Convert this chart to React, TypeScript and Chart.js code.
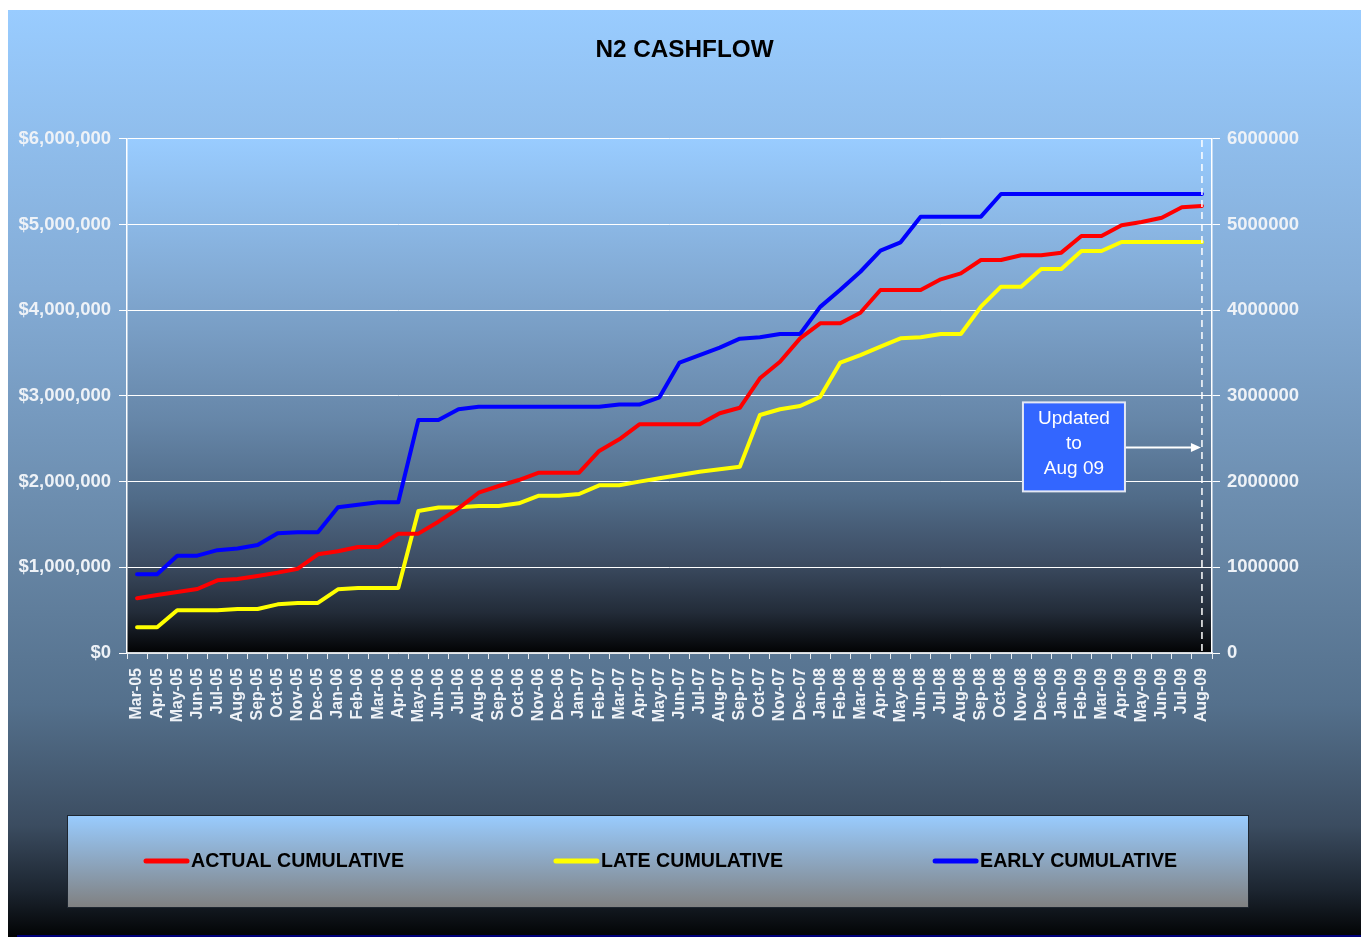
import React, { useEffect, useRef } from 'react';
import { Chart, registerables } from 'chart.js';

Chart.register(...registerables);

const months = [
  'Mar-05', 'Apr-05', 'May-05', 'Jun-05', 'Jul-05', 'Aug-05', 'Sep-05', 'Oct-05', 'Nov-05', 'Dec-05',
  'Jan-06', 'Feb-06', 'Mar-06', 'Apr-06', 'May-06', 'Jun-06', 'Jul-06', 'Aug-06', 'Sep-06', 'Oct-06', 'Nov-06', 'Dec-06',
  'Jan-07', 'Feb-07', 'Mar-07', 'Apr-07', 'May-07', 'Jun-07', 'Jul-07', 'Aug-07', 'Sep-07', 'Oct-07', 'Nov-07', 'Dec-07',
  'Jan-08', 'Feb-08', 'Mar-08', 'Apr-08', 'May-08', 'Jun-08', 'Jul-08', 'Aug-08', 'Sep-08', 'Oct-08', 'Nov-08', 'Dec-08',
  'Jan-09', 'Feb-09', 'Mar-09', 'Apr-09', 'May-09', 'Jun-09', 'Jul-09', 'Aug-09',
];

const actualCumulative = [
  640000, 677000, 712000, 747000, 848000, 864000, 899000, 938000, 984000, 1152000,
  1187000, 1237000, 1237000, 1393000, 1393000, 1533000, 1689000, 1871000, 1949000, 2019000, 2105000, 2105000,
  2105000, 2358000, 2494000, 2669000, 2669000, 2669000, 2669000, 2798000, 2862000, 3206000, 3400000, 3673000,
  3848000, 3848000, 3972000, 4237000, 4237000, 4237000, 4362000, 4432000, 4587000, 4587000, 4642000, 4642000,
  4673000, 4867000, 4867000, 4992000, 5030000, 5081000, 5202000, 5218000,
];

const lateCumulative = [
  300000, 300000, 498000, 498000, 498000, 514000, 514000, 568000, 584000, 584000,
  743000, 759000, 759000, 759000, 1658000, 1698000, 1700000, 1716000, 1716000, 1747000, 1836000, 1836000,
  1856000, 1957000, 1957000, 2000000, 2039000, 2078000, 2116000, 2144000, 2175000, 2778000, 2845000, 2883000,
  2990000, 3390000, 3478000, 3575000, 3673000, 3685000, 3723000, 3723000, 4042000, 4276000, 4276000, 4482000,
  4482000, 4692000, 4692000, 4797000, 4797000, 4797000, 4797000, 4797000,
];

const earlyCumulative = [
  920000, 920000, 1136000, 1136000, 1200000, 1220000, 1260000, 1397000, 1410000, 1410000,
  1700000, 1730000, 1760000, 1760000, 2720000, 2720000, 2845000, 2875000, 2875000, 2875000, 2875000, 2875000,
  2875000, 2875000, 2900000, 2900000, 2985000, 3390000, 3478000, 3564000, 3669000, 3685000, 3723000, 3723000,
  4040000, 4240000, 4450000, 4696000, 4794000, 5093000, 5093000, 5093000, 5093000, 5358000, 5358000, 5358000,
  5358000, 5358000, 5358000, 5358000, 5358000, 5358000, 5358000, 5358000,
];

const seriesNames = ['ACTUAL CUMULATIVE', 'LATE CUMULATIVE', 'EARLY CUMULATIVE'];
const seriesColors = ['#ff0000', '#ffff00', '#0000ff'];
const noteLines = ['Updated', 'to', 'Aug 09'];
const noteValue = 2400000;

const FONT = "'Liberation Sans', Arial, Helvetica, sans-serif";
const TICK_COLOR = '#eef2f7';

export default function App() {
  const ref = useRef<HTMLCanvasElement>(null);

  useEffect(() => {
    const canvas = ref.current;
    if (!canvas) return;

    const bgPlugin = {
      id: 'bgPlugin',
      beforeDraw(chart: any) {
        const { ctx, width, height, chartArea } = chart;
        ctx.save();
        let g = ctx.createLinearGradient(0, 0, 0, height);
        g.addColorStop(0, '#99ccff');
        g.addColorStop(0.3, '#84acd6');
        g.addColorStop(0.6, '#6584a3');
        g.addColorStop(0.75, '#54708c');
        g.addColorStop(0.88, '#3b4c60');
        g.addColorStop(0.95, '#1c2530');
        g.addColorStop(1, '#020304');
        ctx.fillStyle = g;
        ctx.fillRect(0, 0, width, height);
        ctx.fillStyle = '#00007a';
        ctx.fillRect(9, height - 2, width - 9, 2);

        const { left, top, right, bottom } = chartArea;
        g = ctx.createLinearGradient(0, top, 0, bottom);
        g.addColorStop(0, '#99ccff');
        g.addColorStop(0.3, '#80a7d0');
        g.addColorStop(0.55, '#6686a8');
        g.addColorStop(0.7, '#506b88');
        g.addColorStop(0.82, '#3d4d63');
        g.addColorStop(0.92, '#232c39');
        g.addColorStop(1, '#020304');
        ctx.fillStyle = g;
        ctx.fillRect(left, top, right - left, bottom - top);
        ctx.restore();
      },
      afterDraw(chart: any) {
        const { ctx } = chart;
        // legend box
        const bx = 59, by = 805, bw = 1182, bh = 93;
        ctx.save();
        const g = ctx.createLinearGradient(0, by, 0, by + bh);
        g.addColorStop(0, '#99ccff');
        g.addColorStop(1, '#808080');
        ctx.fillStyle = g;
        ctx.fillRect(bx, by, bw, bh);
        ctx.strokeStyle = '#1e2630';
        ctx.lineWidth = 1;
        ctx.strokeRect(bx + 0.5, by + 0.5, bw - 1, bh - 1);

        ctx.font = `bold 19.6px ${FONT}`;
        ctx.textBaseline = 'middle';
        ctx.textAlign = 'left';
        let x = 136;
        const cy = 851;
        chart.data.datasets.forEach((ds: any) => {
          ctx.strokeStyle = ds.borderColor;
          ctx.lineWidth = 5;
          ctx.lineCap = 'round';
          ctx.beginPath();
          ctx.moveTo(x + 2, cy);
          ctx.lineTo(x + 43, cy);
          ctx.stroke();
          ctx.fillStyle = '#000000';
          ctx.fillText(ds.label, x + 47, cy + 1);
          x += 47 + ctx.measureText(ds.label).width + 150;
        });
        ctx.restore();
      },
      afterDatasetsDraw(chart: any) {
        const { ctx, chartArea } = chart;
        const xs = chart.scales.x;
        const ys = chart.scales.y;
        const xEnd = xs.getPixelForValue(months.length - 1);
        ctx.save();
        // dashed marker line
        ctx.strokeStyle = '#ffffff';
        ctx.lineWidth = 1.5;
        ctx.setLineDash([7, 5]);
        ctx.beginPath();
        ctx.moveTo(xEnd, chartArea.top + 1);
        ctx.lineTo(xEnd, chartArea.bottom);
        ctx.stroke();
        ctx.setLineDash([]);

        const ay = ys.getPixelForValue(noteValue);
        const boxR = xEnd - 77;
        const boxL = boxR - 102;
        const boxT = ay - 45;
        const boxB = ay + 44;
        // arrow
        ctx.strokeStyle = '#ffffff';
        ctx.lineWidth = 2;
        ctx.beginPath();
        ctx.moveTo(boxR, ay);
        ctx.lineTo(xEnd - 9, ay);
        ctx.stroke();
        ctx.fillStyle = '#ffffff';
        ctx.beginPath();
        ctx.moveTo(xEnd - 1, ay);
        ctx.lineTo(xEnd - 11, ay - 4.5);
        ctx.lineTo(xEnd - 11, ay + 4.5);
        ctx.closePath();
        ctx.fill();

        // box
        ctx.fillStyle = '#3366ff';
        ctx.fillRect(boxL, boxT, boxR - boxL, boxB - boxT);
        ctx.strokeStyle = '#e4e8f4';
        ctx.lineWidth = 2;
        ctx.strokeRect(boxL, boxT, boxR - boxL, boxB - boxT);
        ctx.fillStyle = '#ffffff';
        ctx.font = `19px ${FONT}`;
        ctx.textAlign = 'center';
        ctx.textBaseline = 'middle';
        const cx = (boxL + boxR) / 2;
        const offs = [-29, -4, 21.5];
        noteLines.forEach((t, i) => ctx.fillText(t, cx, ay + offs[i]));
        ctx.restore();
      },
    };

    const seriesData = [actualCumulative, lateCumulative, earlyCumulative];

    const chart = new Chart(canvas, {
      type: 'line',
      data: {
        labels: months,
        datasets: seriesNames.map((name, i) => ({
          label: name,
          data: seriesData[i],
          borderColor: seriesColors[i],
          backgroundColor: seriesColors[i],
          borderWidth: 4,
          pointRadius: 0,
          tension: 0,
          fill: false,
          borderJoinStyle: 'round' as const,
          borderCapStyle: 'round' as const,
          yAxisID: 'y',
        })),
      },
      options: {
        responsive: false,
        animation: false,
        devicePixelRatio: 1,
        events: [],
        layout: { padding: { left: 0, right: 0, top: 0, bottom: 0 } },
        plugins: {
          legend: { display: false },
          tooltip: { enabled: false },
          title: {
            display: true,
            text: 'N2 CASHFLOW',
            color: '#000000',
            font: { family: FONT, size: 24.3, weight: 'bold', lineHeight: 1.2 },
            padding: { top: 26, bottom: 73.8 },
          },
        },
        scales: {
          x: {
            type: 'category',
            offset: true,
            grid: {
              display: true,
              drawOnChartArea: false,
              drawTicks: true,
              tickLength: 6,
              color: '#e8ecf0',
              offset: true,
            },
            border: { display: true, color: '#d4d8dc', width: 1.5 },
            ticks: {
              autoSkip: false,
              maxRotation: 90,
              minRotation: 90,
              padding: 9,
              color: TICK_COLOR,
              font: { family: FONT, size: 16, weight: 'bold' },
            },
            afterFit(scale: any) {
              scale.height = 284;
            },
          },
          y: {
            position: 'left',
            min: 0,
            max: 6000000,
            ticks: {
              stepSize: 1000000,
              padding: 8,
              color: TICK_COLOR,
              font: { family: FONT, size: 18.5, weight: 'bold' },
              callback: (v: any) => '$' + Number(v).toLocaleString('en-US'),
            },
            grid: { color: '#ffffff', lineWidth: 1, tickLength: 8, drawTicks: true },
            border: { display: true, color: '#ffffff', width: 1.5 },
            afterFit(scale: any) {
              scale.width = 119;
            },
          },
          y2: {
            position: 'right',
            min: 0,
            max: 6000000,
            ticks: {
              stepSize: 1000000,
              padding: 7,
              color: TICK_COLOR,
              font: { family: FONT, size: 18.5, weight: 'bold' },
              callback: (v: any) => String(v),
            },
            grid: { drawOnChartArea: false, color: '#ffffff', tickLength: 8, drawTicks: true },
            border: { display: true, color: '#ffffff', width: 1.5 },
            afterFit(scale: any) {
              scale.width = 149;
            },
          },
        },
      },
      plugins: [bgPlugin],
    } as any);

    return () => chart.destroy();
  }, []);

  return (
    <div style={{ position: 'absolute', left: 8, top: 10, width: 1353, height: 927 }}>
      <canvas ref={ref} width={1353} height={927} style={{ display: 'block', width: 1353, height: 927 }} />
    </div>
  );
}
